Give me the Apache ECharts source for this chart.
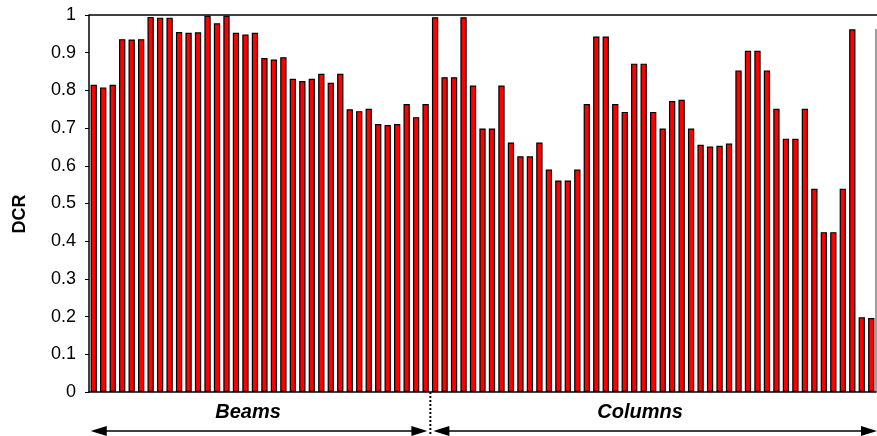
<!DOCTYPE html>
<html>
<head>
<meta charset="utf-8">
<script src="https://cdn.jsdelivr.net/npm/echarts@6/dist/echarts.min.js"></script>
<style>
html,body{margin:0;padding:0;background:#fff;}
#c{width:877px;height:436px;}
</style>
</head>
<body>
<div id="c"></div>
<script>
const beamValues = [0.815,0.808,0.815,0.936,0.935,0.936,0.995,0.993,0.993,0.955,0.953,0.954,
  0.998,0.978,0.998,0.953,0.948,0.953,0.886,0.882,0.888,0.831,0.825,0.831,0.844,0.820,0.844,
  0.750,0.745,0.751,0.711,0.708,0.711,0.764,0.729,0.764];
const columnValues = [0.994,0.835,0.835,0.994,0.813,0.699,0.699,0.813,0.662,0.625,0.625,0.662,
  0.590,0.561,0.561,0.590,0.764,0.943,0.943,0.764,0.743,0.871,0.871,0.743,0.699,0.772,0.775,0.699,
  0.656,0.651,0.653,0.659,0.853,0.905,0.905,0.853,0.751,0.672,0.672,0.751,0.539,0.424,0.424,0.539,
  0.962,0.198,0.196];
const beamLabels = beamValues.map((_, i) => 'B' + (i + 1));
const columnLabels = columnValues.map((_, i) => 'C' + (i + 1));
const categories = beamLabels.concat(columnLabels);
const values = beamValues.concat(columnValues);
const yTicks = [0, 0.1, 0.2, 0.3, 0.4, 0.5, 0.6, 0.7, 0.8, 0.9, 1];
const groupNames = ['Beams', 'Columns'];
const axisName = 'DCR';

const chart = echarts.init(document.getElementById('c'), null, {renderer: 'canvas'});
const FONT = '"Liberation Sans", Arial, sans-serif';
chart.setOption({
  animation: false,
  backgroundColor: '#fff',
  grid: {left: 89, right: 1, top: 15, bottom: 44, containLabel: false, outerBoundsMode: 'none'},
  xAxis: {
    type: 'category', data: categories, boundaryGap: true,
    axisLine: {show: true, lineStyle: {color: '#000', width: 1.5}},
    axisTick: {show: false}, axisLabel: {show: false}, splitLine: {show: false}
  },
  yAxis: {
    type: 'value', min: 0, max: 1, interval: 0.1,
    axisLine: {show: true, lineStyle: {color: '#000', width: 1.5}},
    axisTick: {show: true, inside: false, length: 4, lineStyle: {color: '#000', width: 1}},
    axisLabel: {
      color: '#000', fontSize: 18, fontFamily: FONT, margin: 13,
      formatter: v => { const t = yTicks.find(x => Math.abs(x - v) < 1e-6); return String(t !== undefined ? t : v); }
    },
    splitLine: {show: false}
  },
  series: [{
    type: 'bar', data: values, barWidth: 6.3,
    itemStyle: {color: '#ff0000', borderColor: '#000', borderWidth: 1.2}
  }]
});

const yTop = chart.convertToPixel({yAxisIndex: 0}, 1);
const y0 = chart.convertToPixel({yAxisIndex: 0}, 0);
const xA = chart.convertToPixel({xAxisIndex: 0}, beamLabels[beamLabels.length - 1]);
const xB = chart.convertToPixel({xAxisIndex: 0}, columnLabels[0]);
const xDiv = (xA + xB) / 2;
const xLeft = chart.convertToPixel({xAxisIndex: 0}, categories[0]) - 3;
const xRight = 877;
const arrowY = 431;
const ah = 16, aw = 5;
function arrow(x1, x2) {
  return [
    {type: 'line', shape: {x1: x1 + ah - 2, y1: arrowY, x2: x2 - ah + 2, y2: arrowY}, style: {stroke: '#000', lineWidth: 1.5}},
    {type: 'polygon', shape: {points: [[x1, arrowY], [x1 + ah, arrowY - aw], [x1 + ah, arrowY + aw]]}, style: {fill: '#000'}},
    {type: 'polygon', shape: {points: [[x2, arrowY], [x2 - ah, arrowY - aw], [x2 - ah, arrowY + aw]]}, style: {fill: '#000'}}
  ];
}
chart.setOption({
  graphic: [
    {type: 'line', shape: {x1: 89, y1: yTop, x2: 877, y2: yTop}, style: {stroke: '#404040', lineWidth: 2}},
    {type: 'line', shape: {x1: 876, y1: 29, x2: 876, y2: y0}, style: {stroke: '#404040', lineWidth: 1}},
    {type: 'line', shape: {x1: xDiv, y1: y0, x2: xDiv, y2: 436}, style: {stroke: '#000', lineWidth: 2, lineDash: [2, 2]}},
    ...arrow(xLeft, xDiv - 3),
    ...arrow(xDiv + 3, xRight),
    {type: 'text', x: 248, y: 412, style: {text: groupNames[0], fill: '#000', font: 'italic bold 20px ' + FONT, textAlign: 'center', textVerticalAlign: 'middle'}},
    {type: 'text', x: 640, y: 412, style: {text: groupNames[1], fill: '#000', font: 'italic bold 20px ' + FONT, textAlign: 'center', textVerticalAlign: 'middle'}},
    {type: 'text', x: 20, y: 214, rotation: Math.PI / 2, style: {text: axisName, fill: '#000', font: 'bold 18px ' + FONT, textAlign: 'center', textVerticalAlign: 'middle'}}
  ]
});
</script>
</body>
</html>
